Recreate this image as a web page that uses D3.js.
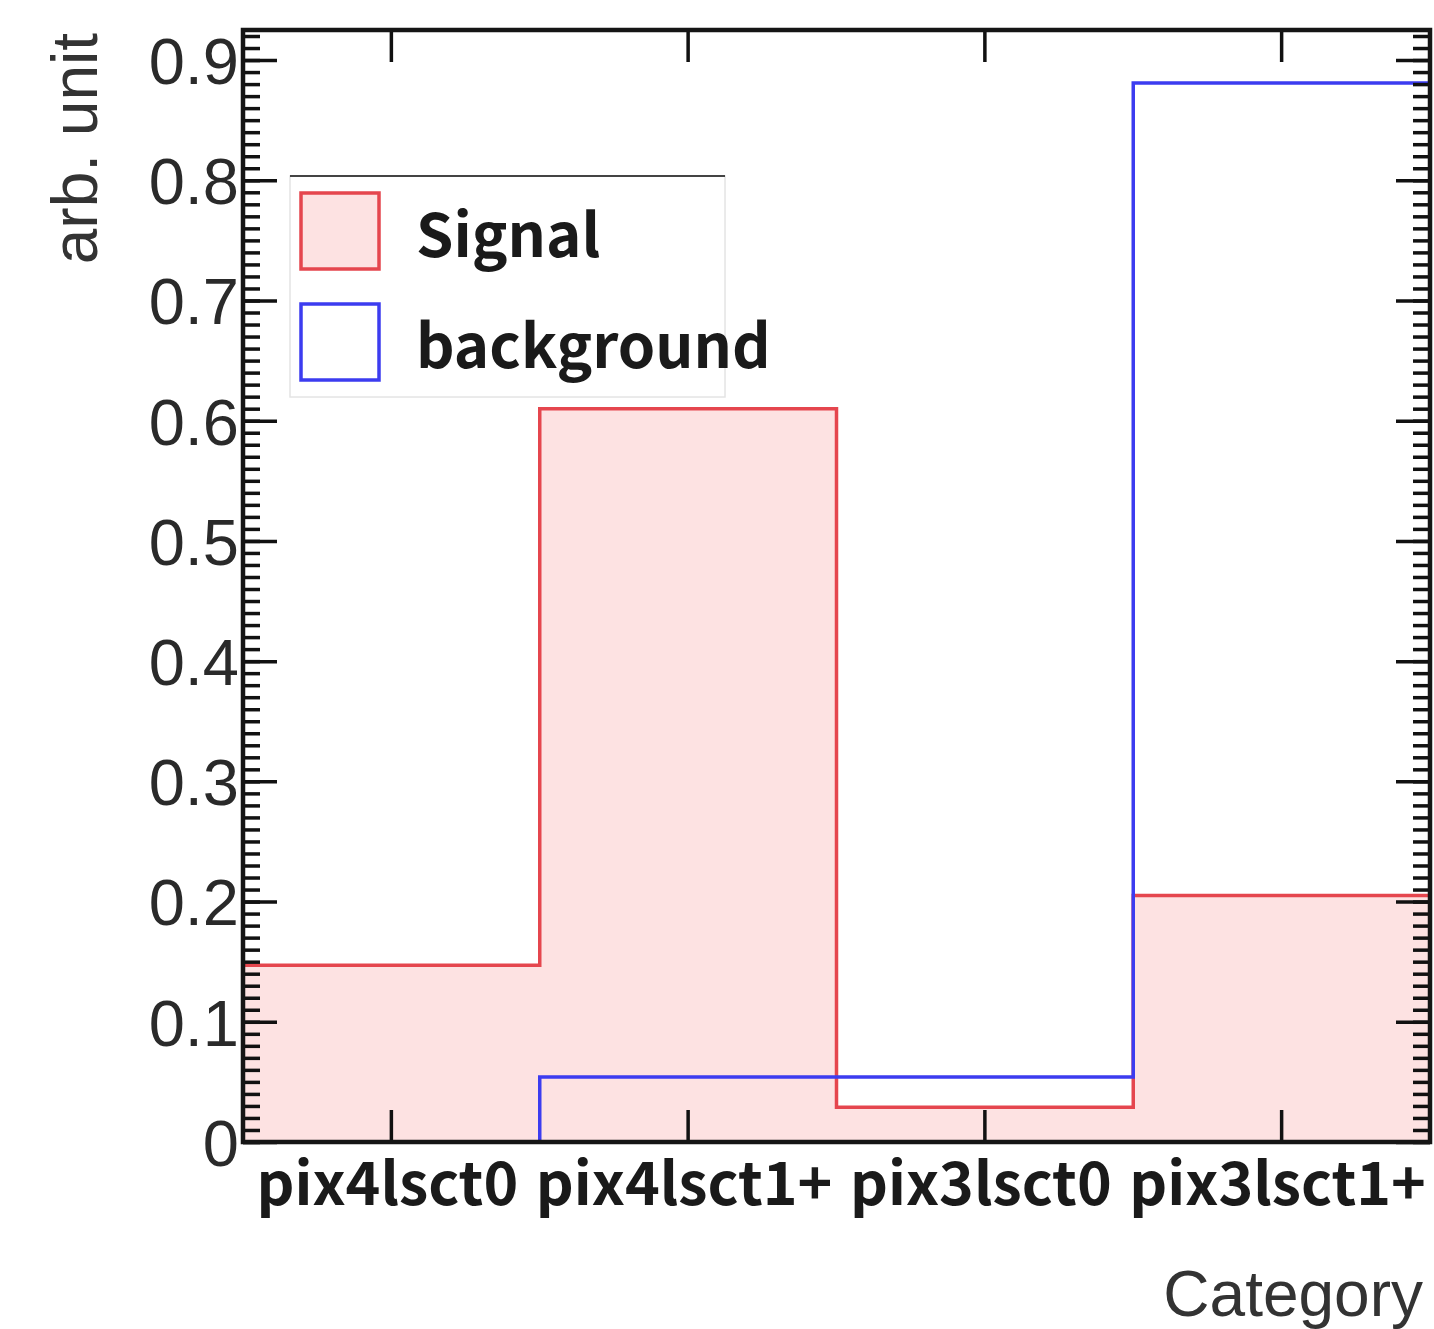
<!doctype html>
<html lang="en">
<head>
    <meta charset="utf-8">
    <title>Category histogram</title>
    <script src="https://cdnjs.cloudflare.com/ajax/libs/d3/7.8.5/d3.min.js"></script>
    <style>
        body { margin: 0; background: #fff; }
        .ylab text { font: 65px "Liberation Sans", Arial, sans-serif; fill: #2a2a2a; }
        .xlab text { font: bold 59px "Noto Sans CJK JP", sans-serif; fill: #1a1a1a; }
        .axis path, .axis line { stroke: #111; }
    </style>
</head>
<body>
    <div id="chart"></div>
    <script>

        // data
        var categories = ["pix4lsct0", "pix4lsct1+", "pix3lsct0", "pix3lsct1+"];
        var signal = [0.147, 0.61, 0.029, 0.205];
        var background = [0, 0.054, 0.054, 0.881];
        var yTicks = [0, 0.1, 0.2, 0.3, 0.4, 0.5, 0.6, 0.7, 0.8, 0.9];
        var yMax = 0.925;
        var legendNames = ["Signal", "background"];

        var config = {
            width: 1434,
            height: 1329,
            left: 243,
            right: 1430,
            top: 30,
            bottom: 1142
        };

        var red = "#e5464e";
        var pink = "#fde2e2";
        var blue = "#3c3cf0";

        var svg = d3.select("#chart")
            .append("svg")
              .attr("width", config.width)
              .attr("height", config.height);

        // x: one band per category, no padding (histogram bins)
        var xScale = d3.scaleBand()
            .domain(categories)
            .range([config.left, config.right])
            .padding(0);

        var yScale = d3.scaleLinear()
            .domain([0, yMax])
            .range([config.bottom, config.top]);

        // build step points: left edge of each bin, then right edge of the last
        function stepPoints(values) {
            var pts = values.map(function(v, i) { return [xScale(categories[i]), v]; });
            pts.push([config.right, values[values.length - 1]]);
            return pts;
        }

        var area = d3.area()
            .curve(d3.curveStepAfter)
            .x(function(d) { return d[0]; })
            .y0(yScale(0))
            .y1(function(d) { return yScale(d[1]); });

        var line = d3.line()
            .curve(d3.curveStepAfter)
            .x(function(d) { return d[0]; })
            .y(function(d) { return yScale(d[1]); });

        // signal filled histogram
        svg.append("path")
            .attr("d", area(stepPoints(signal)))
            .attr("fill", pink)
            .attr("stroke", "none");

        svg.append("path")
            .attr("d", line(stepPoints(signal)))
            .attr("fill", "none")
            .attr("stroke", red)
            .attr("stroke-width", 3.5);

        // background outline histogram
        svg.append("path")
            .attr("d", line(stepPoints(background)))
            .attr("fill", "none")
            .attr("stroke", blue)
            .attr("stroke-width", 3.5);

        // minor y ticks, both sides
        var minorTicks = d3.range(0, 0.921, 0.01);
        svg.append("g")
            .attr("class", "axis")
            .attr("transform", "translate(" + config.left + ",0)")
            .call(d3.axisLeft(yScale).tickValues(minorTicks).tickSizeInner(-17).tickSizeOuter(0).tickFormat(""))
            .call(function(g) { g.selectAll("line").attr("stroke-width", 3.5); g.select(".domain").remove(); });

        svg.append("g")
            .attr("class", "axis")
            .attr("transform", "translate(" + config.right + ",0)")
            .call(d3.axisRight(yScale).tickValues(minorTicks).tickSizeInner(-17).tickSizeOuter(0).tickFormat(""))
            .call(function(g) { g.selectAll("line").attr("stroke-width", 3.5); g.select(".domain").remove(); });

        // major y ticks with labels
        svg.append("g")
            .attr("class", "axis ylab")
            .attr("transform", "translate(" + config.left + ",0)")
            .call(d3.axisLeft(yScale).tickValues(yTicks).tickSizeInner(-34).tickSizeOuter(0).tickPadding(4)
                .tickFormat(function(d) { return d === 0 ? "0" : d3.format(".1f")(d); }))
            .call(function(g) {
                g.selectAll("line").attr("stroke-width", 3.5);
                g.select(".domain").remove();
                g.selectAll("text").attr("dy", "0.36em");
            });

        svg.append("g")
            .attr("class", "axis")
            .attr("transform", "translate(" + config.right + ",0)")
            .call(d3.axisRight(yScale).tickValues(yTicks).tickSizeInner(-34).tickSizeOuter(0).tickFormat(""))
            .call(function(g) { g.selectAll("line").attr("stroke-width", 3.5); g.select(".domain").remove(); });

        // x ticks at bin centres, bottom with labels and top without
        var xCenter = function(d) { return xScale(d) + xScale.bandwidth() / 2; };

        var xBottom = svg.append("g")
            .attr("class", "axis xlab")
            .attr("transform", "translate(0," + config.bottom + ")");
        xBottom.selectAll("line")
            .data(categories)
            .enter()
            .append("line")
              .attr("x1", xCenter).attr("x2", xCenter)
              .attr("y1", 0).attr("y2", -32)
              .attr("stroke-width", 3.5);
        xBottom.selectAll("text")
            .data(categories)
            .enter()
            .append("text")
              .attr("x", function(d) { return xCenter(d) - 4; })
              .attr("y", 63)
              .attr("text-anchor", "middle")
              .text(function(d) { return d; });

        svg.append("g")
            .attr("class", "axis")
            .attr("transform", "translate(0," + config.top + ")")
            .selectAll("line")
            .data(categories)
            .enter()
            .append("line")
              .attr("x1", xCenter).attr("x2", xCenter)
              .attr("y1", 0).attr("y2", 32)
              .attr("stroke-width", 3.5);

        // frame
        svg.append("rect")
            .attr("x", config.left)
            .attr("y", config.top)
            .attr("width", config.right - config.left)
            .attr("height", config.bottom - config.top)
            .attr("fill", "none")
            .attr("stroke", "#151515")
            .attr("stroke-width", 4.5);

        // axis titles
        svg.append("text")
            .attr("transform", "translate(97," + (config.top + 3) + ") rotate(-90)")
            .attr("text-anchor", "end")
            .style("font", "64px 'Liberation Sans', Arial, sans-serif")
            .attr("fill", "#333")
            .text("arb. unit");

        svg.append("text")
            .attr("x", 1423)
            .attr("y", 1316)
            .attr("text-anchor", "end")
            .style("font", "64px 'Liberation Sans', Arial, sans-serif")
            .attr("fill", "#333")
            .text("Category");

        // legend
        var legend = svg.append("g").attr("transform", "translate(290,176)");
        legend.append("rect")
            .attr("width", 435).attr("height", 221)
            .attr("fill", "#fff")
            .attr("stroke", "#e4e4e4")
            .attr("stroke-width", 1.5);
        legend.append("line")
            .attr("x1", 0).attr("x2", 435)
            .attr("y1", 0).attr("y2", 0)
            .attr("stroke", "#444")
            .attr("stroke-width", 2);

        var entries = legend.selectAll("g.entry")
            .data(legendNames)
            .enter()
            .append("g")
            .attr("class", "entry")
            .attr("transform", function(d, i) { return "translate(0," + (i * 111) + ")"; });

        entries.append("rect")
            .attr("x", 11).attr("y", 17)
            .attr("width", 78).attr("height", 76)
            .attr("fill", function(d, i) { return i === 0 ? pink : "#fff"; })
            .attr("stroke", function(d, i) { return i === 0 ? red : blue; })
            .attr("stroke-width", 3.5);

        entries.append("text")
            .attr("x", 126)
            .attr("y", 81)
            .style("font", "bold 60px 'Noto Sans CJK JP', sans-serif")
            .attr("fill", "#1a1a1a")
            .text(function(d) { return d; });

    </script>
</body>
</html>
